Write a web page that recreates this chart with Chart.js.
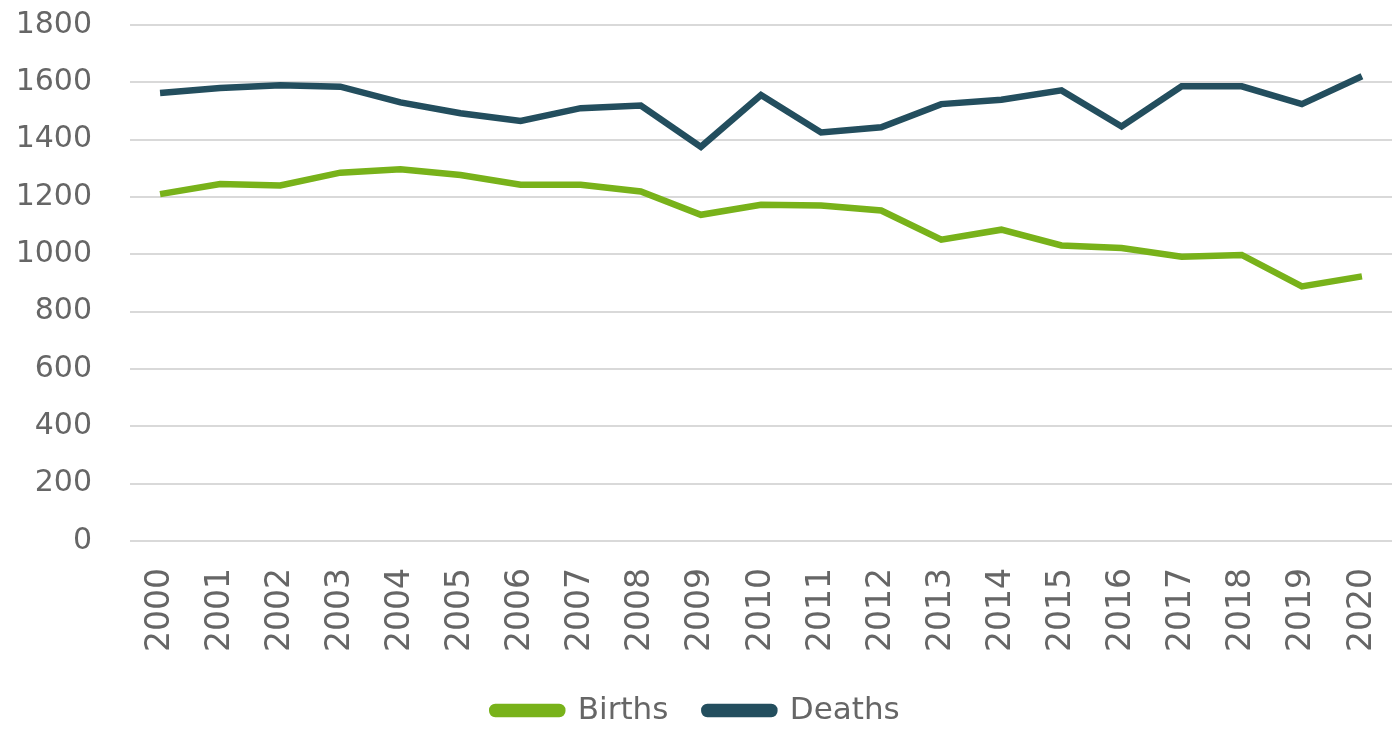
<!DOCTYPE html>
<html>
<head>
<meta charset="utf-8">
<script src="https://cdn.jsdelivr.net/npm/chart.js@4.4.0/dist/chart.umd.min.js"></script>
<style>
  html, body { margin: 0; padding: 0; background: #fff; }
  #wrap { width: 1398px; height: 730px; }
</style>
</head>
<body>
<div id="wrap"><canvas id="chart"></canvas></div>
<script>
// years along the bottom
const years = ['2000','2001','2002','2003','2004','2005','2006','2007','2008','2009','2010',
               '2011','2012','2013','2014','2015','2016','2017','2018','2019','2020']

// values
const births = [1210,1245,1240,1285,1297,1277,1243,1243,1219,1138,1173,
                1170,1153,1051,1086,1031,1022,992,998,888,923]
const deaths = [1563,1580,1590,1585,1530,1492,1465,1510,1519,1375,1556,
                1425,1443,1524,1539,1572,1446,1586,1586,1524,1621]

const yMin = 0
const yMax = 1800
const yStep = 200

const green = '#78b21a'
const teal = '#234e5e'
const textGrey = '#666666'

let ctx = document.getElementById('chart')

new Chart(ctx, {
    type: 'line',
    data: {
        labels: years,
        datasets: [
            {
                label: 'Births',
                data: births,
                borderColor: green,
                backgroundColor: green,
                borderWidth: 6.5,
                pointRadius: 0,
                tension: 0
            },
            {
                label: 'Deaths',
                data: deaths,
                borderColor: teal,
                backgroundColor: teal,
                borderWidth: 6.5,
                pointRadius: 0,
                tension: 0
            }
        ]
    },
    options: {
        responsive: true,
        maintainAspectRatio: false,
        animation: false,
        layout: { padding: { top: 25, right: 6, bottom: -6, left: 0 } },
        plugins: {
            tooltip: { enabled: false },
            legend: {
                position: 'bottom',
                labels: {
                    boxWidth: 70,
                    boxHeight: 7,
                    useBorderRadius: true,
                    borderRadius: 3,
                    padding: 36,
                    color: textGrey,
                    font: { family: 'DejaVu Sans', size: 31 }
                }
            }
        },
        scales: {
            x: {
                offset: true,
                grid: { display: false, drawTicks: false },
                border: { display: false },
                ticks: {
                    minRotation: 90,
                    maxRotation: 90,
                    padding: 27,
                    color: textGrey,
                    font: { family: 'DejaVu Sans', size: 33 }
                },
                afterFit: function (scale) {
                    scale.height = 118
                    scale.paddingLeft = 0
                    scale.paddingRight = 0
                }
            },
            y: {
                min: yMin,
                max: yMax,
                grid: { color: '#d9d9d9', lineWidth: 2, drawTicks: false },
                border: { display: false },
                ticks: {
                    stepSize: yStep,
                    padding: 38,
                    color: textGrey,
                    font: { family: 'DejaVu Sans', size: 30 },
                    callback: function (value) { return String(value) }
                },
                afterFit: function (scale) {
                    scale.width = 130
                    scale.paddingTop = 0
                    scale.paddingBottom = 0
                }
            }
        }
    }
})
</script>
</body>
</html>
